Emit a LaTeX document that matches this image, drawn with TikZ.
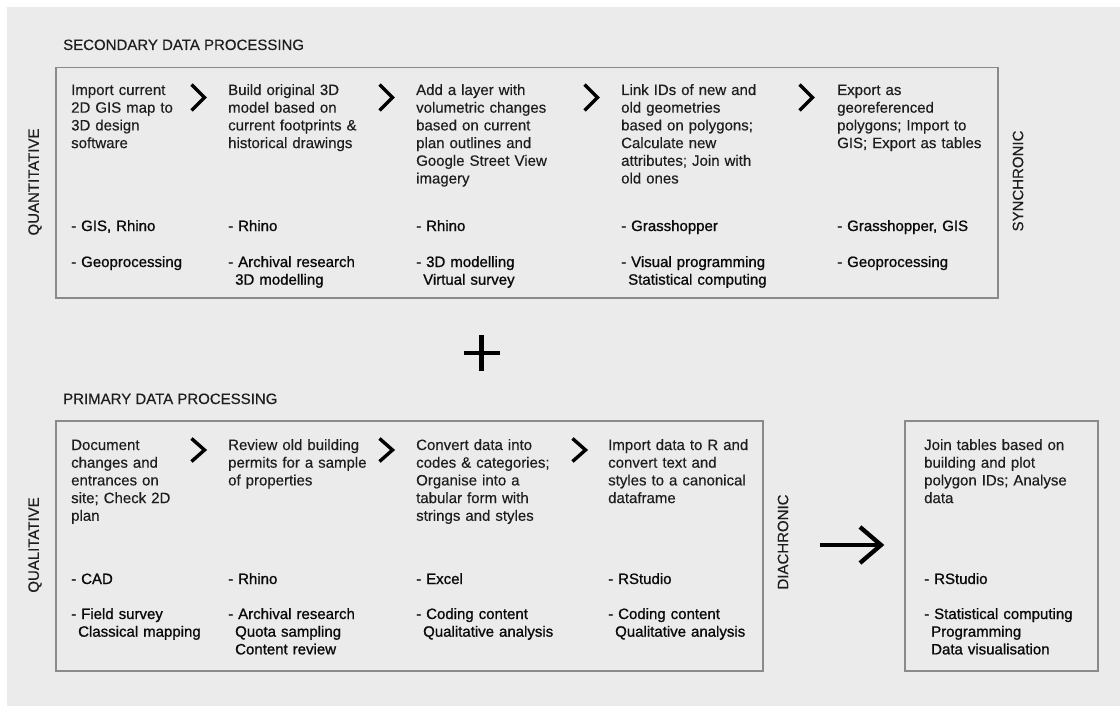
\documentclass[tikz,border=0pt]{standalone}
\usepackage{fontspec}
\setmainfont{Liberation Sans}
\newfontfamily\descf{Liberation Sans}[FakeBold=0.3]
\newfontfamily\medf{Liberation Sans}[FakeBold=1.0]
\definecolor{bgcol}{HTML}{EBEBEB}
\definecolor{framecol}{HTML}{8A8A8A}
\definecolor{desccol}{HTML}{1E1E1E}
\definecolor{toolcol}{HTML}{0A0A0A}
\newcommand{\ind}{\hspace*{7pt}}
\begin{document}
\begin{tikzpicture}[x=1pt,y=-1pt,
  desc/.style={anchor=base west, inner sep=0pt, text width=190pt, align=left,
    font=\fontsize{15}{17.7}\selectfont\descf, text=desccol},
  tool/.style={anchor=base west, inner sep=0pt, text width=190pt, align=left,
    font=\fontsize{15}{17.7}\selectfont\medf, text=toolcol},
  ttl/.style={anchor=base west, inner sep=0pt, font=\fontsize{15}{17.7}\selectfont\descf, text=desccol},
  vlabel/.style={rotate=90, inner sep=0pt, anchor=center, font=\fontsize{15}{17.7}\selectfont\descf, text=desccol},
  frame/.style={draw=framecol, line width=1.5pt, inner sep=0pt, anchor=north west},
  chev/.style={line width=3.4pt, line join=miter, miter limit=10, black},
  bold/.style={line width=4.3pt, black}]
\useasboundingbox (0,0) rectangle (1120,706);
\fill[white] (0,0) rectangle (1120,706);
\fill[bgcol] (7,7) rectangle (1120,706);

% titles
\node[ttl] (t1) at (63,50) {SECONDARY DATA PROCESSING};
\node[ttl] (t2) at (63,404) {PRIMARY DATA PROCESSING};

% frames
\node[frame, minimum width=942pt, minimum height=230pt] (secbox) at (55,67) {};
\node[frame, minimum width=707pt, minimum height=250pt] (pribox) at (55,420) {};
\node[frame, minimum width=193pt, minimum height=250pt] (resbox) at (904,420) {};

% vertical labels
\node[vlabel] (quant) at (35,182) {QUANTITATIVE};
\node[vlabel] (qual) at (35,545) {QUALITATIVE};
\node[vlabel] (sync) at (1018,181) {SYNCHRONIC};
\node[vlabel] (dia) at (783,542) {DIACHRONIC};

% secondary columns
\node[desc] (s1) at (71,95) {Import current\\2D GIS map to\\3D design\\software};
\node[desc] (s2) at (228,95) {Build original 3D\\model based on\\current footprints \&\\historical drawings};
\node[desc] (s3) at (416,95) {Add a layer with\\volumetric changes\\based on current\\plan outlines and\\Google Street View\\imagery};
\node[desc] (s4) at (621,95) {Link IDs of new and\\old geometries\\based on polygons;\\Calculate new\\attributes; Join with\\old ones};
\node[desc] (s5) at (837,95) {Export as\\georeferenced\\polygons; Import to\\GIS; Export as tables};

\node[tool] (s1t) at (71,231) {- GIS, Rhino};
\node[tool] (s2t) at (228,231) {- Rhino};
\node[tool] (s3t) at (416,231) {- Rhino};
\node[tool] (s4t) at (621,231) {- Grasshopper};
\node[tool] (s5t) at (837,231) {- Grasshopper, GIS};

\node[tool] (s1m) at (71,267) {- Geoprocessing};
\node[tool] (s2m) at (228,267) {- Archival research\\\ind 3D modelling};
\node[tool] (s3m) at (416,267) {- 3D modelling\\\ind Virtual survey};
\node[tool] (s4m) at (621,267) {- Visual programming\\\ind Statistical computing};
\node[tool] (s5m) at (837,267) {- Geoprocessing};

% primary columns
\node[desc] (p1) at (71,450) {Document\\changes and\\entrances on\\site; Check 2D\\plan};
\node[desc] (p2) at (228,450) {Review old building\\permits for a sample\\of properties};
\node[desc] (p3) at (416,450) {Convert data into\\codes \& categories;\\Organise into a\\tabular form with\\strings and styles};
\node[desc] (p4) at (608,450) {Import data to R and\\convert text and\\styles to a canonical\\dataframe};
\node[desc] (r1) at (924,450) {Join tables based on\\building and plot\\polygon IDs; Analyse\\data};

\node[tool] (p1t) at (71,584) {- CAD};
\node[tool] (p2t) at (228,584) {- Rhino};
\node[tool] (p3t) at (416,584) {- Excel};
\node[tool] (p4t) at (608,584) {- RStudio};
\node[tool] (r1t) at (924,584) {- RStudio};

\node[tool] (p1m) at (71,619) {- Field survey\\\ind Classical mapping};
\node[tool] (p2m) at (228,619) {- Archival research\\\ind Quota sampling\\\ind Content review};
\node[tool] (p3m) at (416,619) {- Coding content\\\ind Qualitative analysis};
\node[tool] (p4m) at (608,619) {- Coding content\\\ind Qualitative analysis};
\node[tool] (r1m) at (924,619) {- Statistical computing\\\ind Programming\\\ind Data visualisation};

% chevrons (secondary)
\foreach \cx in {190,378,583,798}{
  \draw[chev] (\cx+1.5,84.5) -- (\cx+14.5,97.5) -- (\cx+1.5,110.5);
}
% chevrons (primary)
\foreach \cx in {190,378,571}{
  \draw[chev] (\cx+1.5,438.5) -- (\cx+14.5,450) -- (\cx+1.5,461.5);
}

% plus sign
\coordinate (plusc) at (481.5,353);
\draw[bold] ([xshift=-18pt]plusc) -- ([xshift=18pt]plusc);
\draw[bold] ([yshift=-18pt]plusc) -- ([yshift=18pt]plusc);

% arrow
\coordinate (arrs) at (820,545);
\coordinate (arre) at (881,545);
\draw[bold] (arrs) -- (arre);
\draw[bold, line join=miter, miter limit=10] (860,527) -- (arre) -- (860,563);
\end{tikzpicture}
\end{document}
